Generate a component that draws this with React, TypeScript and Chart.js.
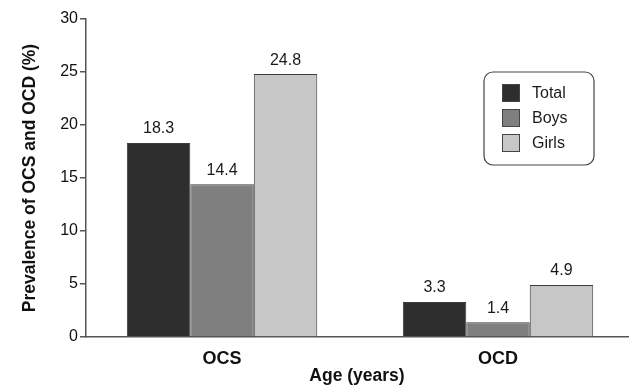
import React, { useEffect, useRef } from "react";
import { Chart, registerables } from "chart.js";

Chart.register(...registerables);

const categories = ["OCS", "OCD"];
const seriesNames = ["Total", "Boys", "Girls"];
const totalValues = [18.3, 3.3];
const boysValues = [14.4, 1.4];
const girlsValues = [24.8, 4.9];
const seriesColors = ["#2e2e2e", "#7f7f7f", "#c7c7c7"];
const yTicks = [0, 5, 10, 15, 20, 25, 30];

const FONT = "'Liberation Sans', Arial, Helvetica, sans-serif";

const valueLabels = {
  id: "valueLabels",
  afterDatasetsDraw(chart: any) {
    const ctx = chart.ctx;
    ctx.save();
    ctx.font = `16px ${FONT}`;
    ctx.fillStyle = "#1a1a1a";
    ctx.textAlign = "center";
    ctx.textBaseline = "bottom";
    chart.data.datasets.forEach((ds: any, di: number) => {
      const meta = chart.getDatasetMeta(di);
      meta.data.forEach((el: any, i: number) => {
        const v = ds.data[i].y;
        ctx.fillText(v.toFixed(1), el.x, el.y - 6);
      });
    });
    ctx.restore();
  },
};

const boxLegend = {
  id: "boxLegend",
  afterDraw(chart: any) {
    const ctx = chart.ctx;
    const area = chart.chartArea;
    const x = area.right - 144;
    const y = area.top + 53;
    const w = 110;
    const h = 93;
    const r = 9;
    ctx.save();
    ctx.beginPath();
    ctx.moveTo(x + r, y);
    ctx.arcTo(x + w, y, x + w, y + h, r);
    ctx.arcTo(x + w, y + h, x, y + h, r);
    ctx.arcTo(x, y + h, x, y, r);
    ctx.arcTo(x, y, x + w, y, r);
    ctx.closePath();
    ctx.fillStyle = "#ffffff";
    ctx.fill();
    ctx.lineWidth = 1.2;
    ctx.strokeStyle = "#444";
    ctx.stroke();
    ctx.font = `16px ${FONT}`;
    ctx.textBaseline = "middle";
    ctx.textAlign = "left";
    chart.data.datasets.forEach((ds: any, i: number) => {
      const cy = y + 21 + i * 25;
      ctx.fillStyle = ds.backgroundColor;
      ctx.fillRect(x + 18.5, cy - 8.5, 17, 17);
      ctx.lineWidth = 1;
      ctx.strokeStyle = "#444";
      ctx.strokeRect(x + 18.5, cy - 8.5, 17, 17);
      ctx.fillStyle = "#1a1a1a";
      ctx.fillText(ds.label, x + 48, cy + 1);
    });
    ctx.restore();
  },
};

export default function App() {
  const ref = useRef<HTMLCanvasElement | null>(null);
  useEffect(() => {
    if (!ref.current) return;
    const seriesValues = [totalValues, boysValues, girlsValues];
    const chart = new Chart(ref.current, {
      type: "bar",
      data: {
        datasets: seriesNames.map((name, si) => ({
          label: name,
          data: categories.map((_, ci) => ({ x: ci, y: seriesValues[si][ci] })),
          backgroundColor: seriesColors[si],
          borderColor: "#3c3c3c",
          borderWidth: 1,
          categoryPercentage: 0.69,
          barPercentage: 1,
        })),
      },
      options: {
        responsive: false,
        animation: false,
        layout: { padding: { top: 19, right: 1, bottom: 0, left: 0 } },
        plugins: {
          legend: { display: false },
          tooltip: { enabled: false },
        },
        scales: {
          x: {
            type: "linear",
            offset: false,
            min: -0.493,
            max: 1.471,
            afterBuildTicks: (scale: any) => {
              scale.ticks = categories.map((_, i) => ({ value: i }));
            },
            afterFit: (scale: any) => {
              scale.height = 50;
            },
            grid: { display: false },
            border: { display: true, color: "#555", width: 1.5 },
            ticks: {
              padding: 3,
              color: "#111",
              font: { family: FONT, size: 18, weight: "bold" },
              callback: (v: any) => categories[v] ?? "",
            },
            title: {
              display: true,
              text: "Age (years)",
              color: "#111",
              padding: { top: 0, bottom: 0 },
              font: { family: FONT, size: 17.5, weight: "bold" },
            },
          },
          y: {
            min: 0,
            max: 30,
            afterBuildTicks: (scale: any) => {
              scale.ticks = yTicks.map((v) => ({ value: v }));
            },
            afterFit: (scale: any) => {
              scale.width = 86;
            },
            grid: {
              display: true,
              drawOnChartArea: false,
              drawTicks: true,
              tickLength: 6,
              color: "#555",
              lineWidth: 1.5,
            },
            border: { display: true, color: "#555", width: 1.5 },
            ticks: {
              padding: 2,
              color: "#111",
              font: { family: FONT, size: 16 },
            },
            title: {
              display: true,
              text: "Prevalence of OCS and OCD (%)",
              color: "#111",
              padding: 20,
              font: { family: FONT, size: 17.5, weight: "bold" },
            },
          },
        },
      },
      plugins: [valueLabels, boxLegend],
    } as any);
    return () => chart.destroy();
  }, []);
  return (
    <div style={{ position: "fixed", left: 0, top: 0, width: 629, height: 387, background: "#fff" }}>
      <canvas ref={ref} width={629} height={387} style={{ display: "block" }} />
    </div>
  );
}
